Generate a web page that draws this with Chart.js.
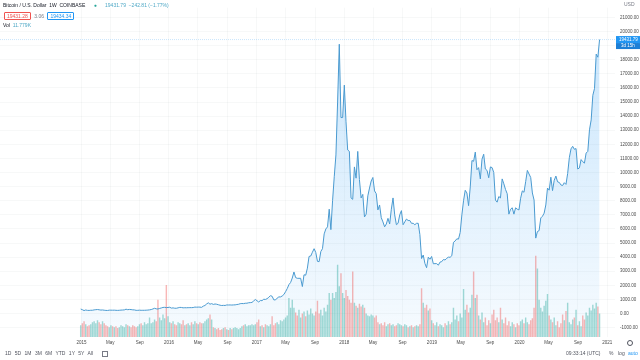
<!DOCTYPE html>
<html>
<head>
<meta charset="utf-8">
<title>Bitcoin / U.S. Dollar 1W COINBASE</title>
<script src="https://cdn.jsdelivr.net/npm/chart.js@4.4.1/dist/chart.umd.min.js"></script>
<style>
  body { margin: 0; background: #fff; font-family: "Liberation Sans", Arial, sans-serif; }
  #wrap { position: relative; width: 640px; height: 360px; overflow: hidden; }
  #chart { position: absolute; left: 0; top: 0; }
  .txt { position: absolute; white-space: nowrap; font-size: 5px; line-height: 6px; color: #131722; }
  .box { display: inline-block; border: 0.5px solid; border-radius: 1px; padding: 0 2px; line-height: 6px; }
</style>
</head>
<body>
<div id="wrap">
  <canvas id="chart" width="640" height="360"></canvas>

  <div class="txt" style="left:3px; top:2px;">Bitcoin / U.S. Dollar&nbsp;&nbsp;1W&nbsp;&nbsp;COINBASE
    <span style="color:#26a69a; margin-left:7px;">●</span>
    <span style="color:#4fa8c6; margin-left:7px;">19431.79&nbsp;&nbsp;−242.81 (−1.77%)</span>
  </div>
  <div class="txt" style="left:4px; top:12px;">
    <span class="box" style="border-color:#ef5350; color:#ef5350;">19431.28</span>
    <span style="color:#787b86; margin:0 2px;">3.06</span>
    <span class="box" style="border-color:#2196f3; color:#2196f3;">19434.34</span>
  </div>
  <div class="txt" style="left:3px; top:22px;">Vol <span style="color:#4fa8c6;">&nbsp;11.779K</span></div>

  <div class="txt" style="left:624px; top:1px; color:#787b86;">USD</div>

  <div class="txt" style="left:5px; top:350px; color:#50535e; word-spacing:2px;">1D 5D 1M 3M 6M YTD 1Y 5Y All
    <span style="display:inline-block; width:4px; height:4px; border:0.5px solid #787b86; margin-left:6px; vertical-align:middle;"></span>
  </div>
  <div class="txt" style="left:566px; top:350px; color:#50535e;">09:33:14 (UTC)</div>
  <div class="txt" style="left:609px; top:350px; color:#50535e;">%</div>
  <div class="txt" style="left:618px; top:350px; color:#50535e;">log</div>
  <div class="txt" style="left:628px; top:350px; color:#2196f3;">auto</div>
  <div style="position:absolute; left:627px; top:340px; width:4px; height:4px; border:0.7px solid #50535e; border-radius:50%;"></div>
</div>

<script>
// weekly bars, the first one starts on Monday 2014-12-29
const firstWeek = Date.UTC(2014, 11, 29);
const lastPrice = 19431.79;

// weekly closes (USD)
const close2015 = [320, 274, 210, 254, 226, 223, 234, 235, 260, 275, 285, 268, 247, 255, 236, 223, 219, 240, 240, 237, 240, 230, 225, 233, 245, 250, 260, 310, 275, 292, 281, 263, 258, 228, 229, 240, 230, 231, 232, 238, 247, 262, 285, 325, 373, 333, 323, 363, 396, 434, 442, 421];
const close2016 = [431, 448, 387, 402, 378, 376, 405, 438, 432, 405, 413, 410, 416, 420, 419, 428, 458, 451, 458, 456, 440, 526, 573, 680, 760, 663, 703, 648, 678, 660, 625, 592, 570, 581, 574, 610, 607, 610, 603, 612, 617, 640, 657, 700, 712, 705, 730, 733, 766, 774, 790, 892];
const close2017 = [998, 908, 820, 922, 915, 1015, 1000, 1055, 1150, 1270, 1225, 970, 965, 1095, 1180, 1180, 1245, 1350, 1550, 1770, 2050, 2200, 2520, 2950, 2550, 2500, 2500, 2500, 1915, 2750, 2720, 3220, 4050, 4080, 4350, 4600, 4330, 3700, 3680, 4400, 4600, 5650, 6000, 6150, 7400, 5950, 8000, 9700, 11250, 15000, 19100, 13900, 13900];
const close2018 = [16200, 13600, 11600, 11500, 8200, 8100, 10400, 9600, 11500, 9500, 8200, 8450, 6850, 7050, 8350, 8900, 9400, 9650, 8700, 8500, 7350, 7700, 6800, 6500, 6150, 6350, 6750, 6350, 7400, 8200, 7000, 6300, 6400, 7000, 7300, 6300, 6500, 6700, 6600, 6600, 6400, 6400, 6300, 6400, 6400, 5600, 3900, 4150, 3550, 3250, 4000, 3850];
const close2019 = [4050, 3530, 3540, 3540, 3430, 3650, 3680, 3830, 3800, 3920, 4000, 3990, 4100, 5050, 5150, 5300, 5280, 5750, 7000, 8000, 8740, 8550, 7650, 8980, 10850, 10800, 11450, 10200, 10350, 9550, 10950, 11300, 10250, 10150, 9630, 10400, 10350, 10000, 8050, 7900, 8300, 8200, 9550, 9200, 8800, 8500, 7050, 7400, 7500, 7050, 7500, 7400];
const close2020 = [7350, 8180, 8700, 8600, 9350, 10150, 9900, 9650, 8550, 8050, 5350, 5820, 5880, 6780, 6900, 7120, 7700, 8900, 8750, 9670, 8720, 9450, 9750, 9340, 9300, 9120, 9080, 9280, 9160, 9930, 11050, 11680, 11860, 11650, 11700, 10250, 10330, 10920, 10770, 10670, 11380, 11500, 13030, 13730, 15480, 15960, 18400, 18180, lastPrice];

// weekly volume (thousand BTC)
const vol2015 = [54, 63, 72, 59, 50, 54, 59, 68, 72, 63, 77, 68, 59, 72, 63, 54, 50, 45, 54, 50, 45, 50, 41, 45, 54, 50, 45, 59, 54, 50, 45, 54, 50, 45, 50, 59, 63, 54, 68, 59, 63, 90, 63, 68, 81, 72, 171, 90, 77, 104, 86, 239];
const vol2016 = [95, 68, 63, 72, 59, 54, 68, 63, 59, 77, 54, 59, 63, 54, 68, 59, 72, 63, 59, 68, 63, 63, 72, 81, 86, 104, 81, 45, 41, 36, 41, 32, 36, 41, 45, 36, 32, 41, 36, 41, 45, 41, 36, 41, 50, 54, 59, 50, 54, 54, 59, 54];
const vol2017 = [59, 68, 81, 50, 54, 45, 59, 54, 50, 59, 95, 54, 63, 68, 59, 77, 72, 81, 90, 99, 180, 135, 171, 135, 113, 99, 126, 90, 108, 117, 95, 122, 104, 131, 108, 99, 117, 167, 108, 126, 99, 135, 117, 149, 203, 171, 203, 180, 207, 333, 234, 293, 203];
const vol2018 = [180, 216, 189, 171, 158, 302, 158, 144, 135, 153, 140, 149, 135, 108, 99, 95, 104, 99, 90, 99, 68, 59, 63, 54, 68, 50, 59, 63, 54, 59, 50, 54, 63, 59, 54, 50, 59, 54, 45, 50, 54, 45, 50, 54, 50, 59, 225, 158, 135, 149, 122, 131];
const vol2019 = [77, 63, 54, 68, 50, 59, 54, 45, 63, 54, 72, 59, 68, 135, 81, 99, 72, 108, 90, 221, 126, 149, 113, 135, 194, 302, 180, 194, 99, 81, 113, 68, 90, 54, 77, 63, 104, 126, 77, 90, 68, 135, 81, 63, 90, 54, 72, 50, 68, 59, 45, 63];
const vol2020 = [54, 72, 81, 63, 90, 68, 59, 77, 86, 135, 374, 315, 171, 135, 117, 144, 167, 198, 99, 81, 68, 90, 54, 72, 45, 63, 104, 77, 120, 158, 68, 59, 81, 90, 126, 54, 72, 50, 99, 81, 113, 99, 135, 122, 149, 131, 158, 140, 108];

// time axis labels
const tickDates = ["2015-01-01", "2015-05-01", "2015-09-01", "2016-01-01", "2016-05-01", "2016-09-01",
  "2017-01-01", "2017-05-01", "2017-09-01", "2018-01-01", "2018-05-01", "2018-09-01",
  "2019-01-01", "2019-05-01", "2019-09-01", "2020-01-01", "2020-05-01", "2020-09-01", "2021-01-01"];
const tickLabels = ["2015", "May", "Sep", "2016", "May", "Sep", "2017", "May", "Sep", "2018", "May", "Sep",
  "2019", "May", "Sep", "2020", "May", "Sep", "2021"];
const priceTicks = [-1000, 0, 1000, 2000, 3000, 4000, 5000, 6000, 7000, 8000, 9000, 10000,
  11000, 12000, 13000, 14000, 15000, 16000, 17000, 18000, 19000, 20000, 21000];

const closes = [].concat(close2015, close2016, close2017, close2018, close2019, close2020);
const volumes = [].concat(vol2015, vol2016, vol2017, vol2018, vol2019, vol2020);

const weekMs = 7 * 24 * 3600 * 1000;
const tickPos = tickDates.map(d => (Date.parse(d + "T00:00:00Z") - firstWeek) / weekMs);

const pricePoints = closes.map((c, i) => ({ x: i, y: c }));
const volPoints = volumes.map((v, i) => ({ x: i, y: v }));
const volColors = closes.map((c, i) =>
  (i === 0 || c >= closes[i - 1]) ? "rgba(38,166,154,0.42)" : "rgba(239,83,80,0.42)");

const tickFont = { family: "Liberation Sans", size: 4.5 };

const lastPricePlugin = {
  id: "lastPrice",
  afterDatasetsDraw(chart) {
    const c = chart.ctx, a = chart.chartArea;
    const y = chart.scales.y.getPixelForValue(lastPrice);
    c.save();
    c.strokeStyle = "rgba(33,150,243,0.4)";
    c.lineWidth = 0.6;
    c.setLineDash([1, 1]);
    c.beginPath();
    c.moveTo(a.left, y);
    c.lineTo(a.right, y);
    c.stroke();
    c.restore();
  },
  afterDraw(chart) {
    const c = chart.ctx, a = chart.chartArea;
    const y = chart.scales.y.getPixelForValue(lastPrice);
    c.save();
    c.fillStyle = "#2196f3";
    c.fillRect(a.right + 1, y - 3.5, 640 - a.right - 1, 7);
    c.fillStyle = "#1c7fd6";
    c.fillRect(a.right + 1, y + 3.5, 640 - a.right - 1, 6);
    c.fillStyle = "#fff";
    c.font = "4.5px 'Liberation Sans'";
    c.textBaseline = "middle";
    c.fillText(lastPrice.toFixed(2), a.right + 4, y);
    c.fillText("3d 15h", a.right + 6, y + 6.5);
    c.restore();
  }
};

new Chart(document.getElementById("chart"), {
  data: {
    datasets: [
      {
        type: "line",
        data: pricePoints,
        yAxisID: "y",
        borderWidth: 1,
        borderColor: "#4a9ad0",
        pointRadius: 0,
        order: 1
      },
      {
        type: "bar",
        data: volPoints,
        yAxisID: "yv",
        backgroundColor: volColors,
        borderWidth: 0,
        barPercentage: 0.85,
        categoryPercentage: 1,
        order: 2
      },
      {
        type: "line",
        data: pricePoints,
        yAxisID: "y",
        borderWidth: 0,
        pointRadius: 0,
        fill: "start",
        backgroundColor: (ctx) => {
          const a = ctx.chart.chartArea;
          if (!a) return "rgba(33,150,243,0.12)";
          const g = ctx.chart.ctx.createLinearGradient(0, a.top, 0, a.bottom);
          g.addColorStop(0, "rgba(33,150,243,0.26)");
          g.addColorStop(1, "rgba(33,150,243,0.04)");
          return g;
        },
        order: 3
      }
    ]
  },
  options: {
    responsive: false,
    animation: false,
    layout: { padding: 0 },
    plugins: { legend: { display: false }, tooltip: { enabled: false } },
    scales: {
      x: {
        type: "linear",
        offset: false,
        min: -48.06,
        max: 318.2,
        afterBuildTicks: (s) => { s.ticks = tickPos.map(v => ({ value: v })); },
        afterFit: (s) => { s.height = 23; },
        ticks: {
          callback: (v, i) => tickLabels[i],
          autoSkip: false,
          maxRotation: 0,
          padding: 3,
          color: "#4a4a4a",
          font: tickFont
        },
        grid: { offset: false, color: "rgba(42,46,57,0.035)", drawTicks: false },
        border: { display: false }
      },
      y: {
        position: "right",
        min: -1663,
        max: 21691,
        afterBuildTicks: (s) => { s.ticks = priceTicks.map(v => ({ value: v })); },
        afterFit: (s) => { s.width = 25; },
        ticks: {
          callback: (v) => v.toFixed(2),
          padding: 5,
          color: "#4a4a4a",
          font: tickFont
        },
        grid: { color: "rgba(42,46,57,0.035)", drawTicks: false },
        border: { display: false }
      },
      yv: {
        display: false,
        min: 0,
        max: 1516
      }
    }
  },
  plugins: [lastPricePlugin]
});
</script>
</body>
</html>
